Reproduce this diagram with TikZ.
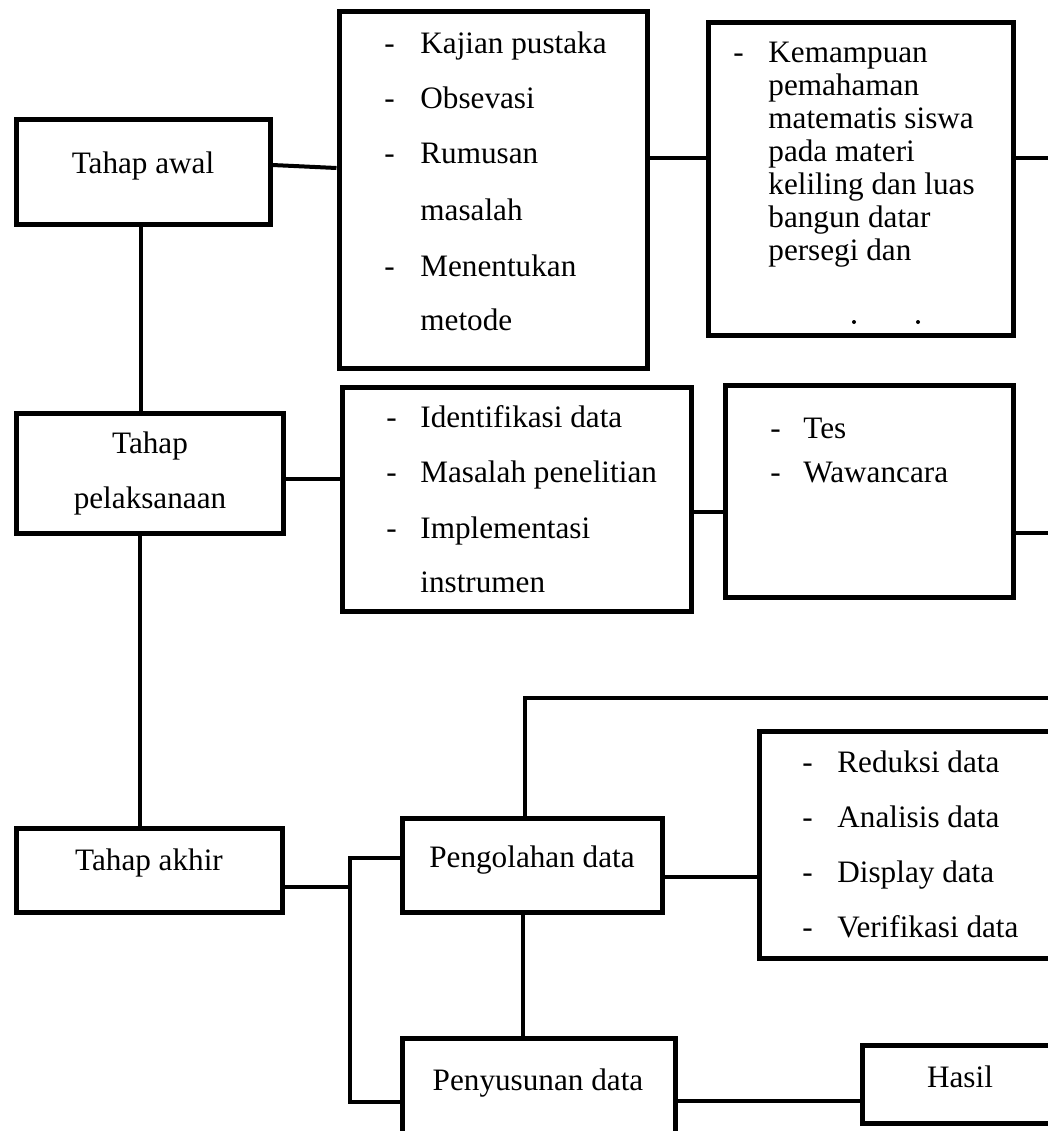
\documentclass[tikz,border=0pt]{standalone}
\usepackage{fontspec}
\setmainfont{Liberation Serif}
\usepackage{tikz}
\usetikzlibrary{fit}

\tikzset{
  box/.style={draw,line width=2.5pt,inner sep=0pt},
  lbl/.style={anchor=base,inner sep=0pt,font=\fontsize{15.6}{18}\selectfont},
  itm/.style={anchor=base west,inner sep=0pt,font=\fontsize{15.6}{18}\selectfont},
  conn/.style={line width=2pt}
}

\begin{document}
\begin{tikzpicture}[x=0.5pt,y=-0.5pt]
\useasboundingbox (0,0) rectangle (1048,1131);
\clip (0,0) rectangle (1048,1131);

\node (awal) [box,fit={(16,119) (270,224)}] {};
\node (awalT) at (143,173) [lbl] {Tahap awal};

\node (kajian) [box,fit={(339,11) (647,368)}] {};
\node (kajianD1) at (384,53) [itm] {-};
\node (kajianT1) at (420,53) [itm] {Kajian pustaka};
\node (kajianD2) at (384,108) [itm] {-};
\node (kajianT2) at (420,108) [itm] {Obsevasi};
\node (kajianD3) at (384,163) [itm] {-};
\node (kajianT3) at (420,163) [itm] {Rumusan};
\node (kajianT4) at (420,220) [itm] {masalah};
\node (kajianD5) at (384,276) [itm] {-};
\node (kajianT5) at (420,276) [itm] {Menentukan};
\node (kajianT6) at (420,330) [itm] {metode};

\node (kemamp) [box,fit={(708,22) (1013,335)}] {};
\node (kemampD1) at (733,62) [itm] {-};
\node (kemampT1) at (768,62) [itm] {Kemampuan};
\node (kemampT2) at (768,95) [itm] {pemahaman};
\node (kemampT3) at (768,128) [itm] {matematis siswa};
\node (kemampT4) at (768,161) [itm] {pada materi};
\node (kemampT5) at (768,194) [itm] {keliling dan luas};
\node (kemampT6) at (768,227) [itm] {bangun datar};
\node (kemampT7) at (768,260) [itm] {persegi dan};
\fill (854,322) circle (2);
\fill (918,322) circle (2);

\node (pelaks) [box,fit={(16,413) (283,533)}] {};
\node (pelaksT1) at (150,453) [lbl] {Tahap};
\node (pelaksT2) at (150,508) [lbl] {pelaksanaan};

\node (ident) [box,fit={(342,387) (691,611)}] {};
\node (identD1) at (386,427) [itm] {-};
\node (identT1) at (420,427) [itm] {Identifikasi data};
\node (identD2) at (386,482) [itm] {-};
\node (identT2) at (420,482) [itm] {Masalah penelitian};
\node (identD3) at (386,538) [itm] {-};
\node (identT3) at (420,538) [itm] {Implementasi};
\node (identT4) at (420,592) [itm] {instrumen};

\node (tes) [box,fit={(725,385) (1013,597)}] {};
\node (tesD1) at (770,438) [itm] {-};
\node (tesT1) at (803,438) [itm] {Tes};
\node (tesD2) at (770,482) [itm] {-};
\node (tesT2) at (803,482) [itm] {Wawancara};

\node (akhir) [box,fit={(16,828) (282,912)}] {};
\node (akhirT) at (149,870) [lbl] {Tahap akhir};

\node (pengol) [box,fit={(402,818) (662,912)}] {};
\node (pengolT) at (532,867) [lbl] {Pengolahan data};

\node (penyus) [box,fit={(402,1038) (675,1170)}] {};
\node (penyusT) at (538,1090) [lbl] {Penyusunan data};

\node (reduksi) [box,fit={(759,731) (1080,958)}] {};
\node (reduksiD1) at (802,772) [itm] {-};
\node (reduksiT1) at (837,772) [itm] {Reduksi data};
\node (reduksiD2) at (802,827) [itm] {-};
\node (reduksiT2) at (837,827) [itm] {Analisis data};
\node (reduksiD3) at (802,882) [itm] {-};
\node (reduksiT3) at (837,882) [itm] {Display data};
\node (reduksiD4) at (802,937) [itm] {-};
\node (reduksiT4) at (837,937) [itm] {Verifikasi data};

\node (hasil) [box,fit={(862,1045) (1070,1123)}] {};
\node (hasilT) at (960,1087) [lbl] {Hasil};

\coordinate (outA) at (1070,158);
\coordinate (outB) at (1070,533);
\coordinate (outC) at (1070,698);
\coordinate (split) at (350,887);

\draw [conn] (awal.east |- 0,165) -- (kajian.west |- 0,168);
\draw [conn] (kajian.east |- 0,158) -- (kemamp.west |- 0,158);
\draw [conn] (kemamp.east |- outA) -- (outA);
\draw [conn] (awal.south -| 141,0) -- (pelaks.north -| 141,0);
\draw [conn] (pelaks.east |- 0,479) -- (ident.west |- 0,479);
\draw [conn] (ident.east |- 0,512) -- (tes.west |- 0,512);
\draw [conn] (tes.east |- outB) -- (outB);
\draw [conn] (pelaks.south -| 140,0) -- (akhir.north -| 140,0);
\draw [conn] (akhir.east |- split) -- (split);
\draw [conn] (pengol.west |- 0,858) -| (split) |- (penyus.west |- 0,1102);
\draw [conn] (pengol.south -| 523,0) -- (penyus.north -| 523,0);
\draw [conn] (pengol.north -| 525,0) |- (outC);
\draw [conn] (pengol.east |- 0,877) -- (reduksi.west |- 0,877);
\draw [conn] (penyus.east |- 0,1101) -- (hasil.west |- 0,1101);
\end{tikzpicture}
\end{document}
